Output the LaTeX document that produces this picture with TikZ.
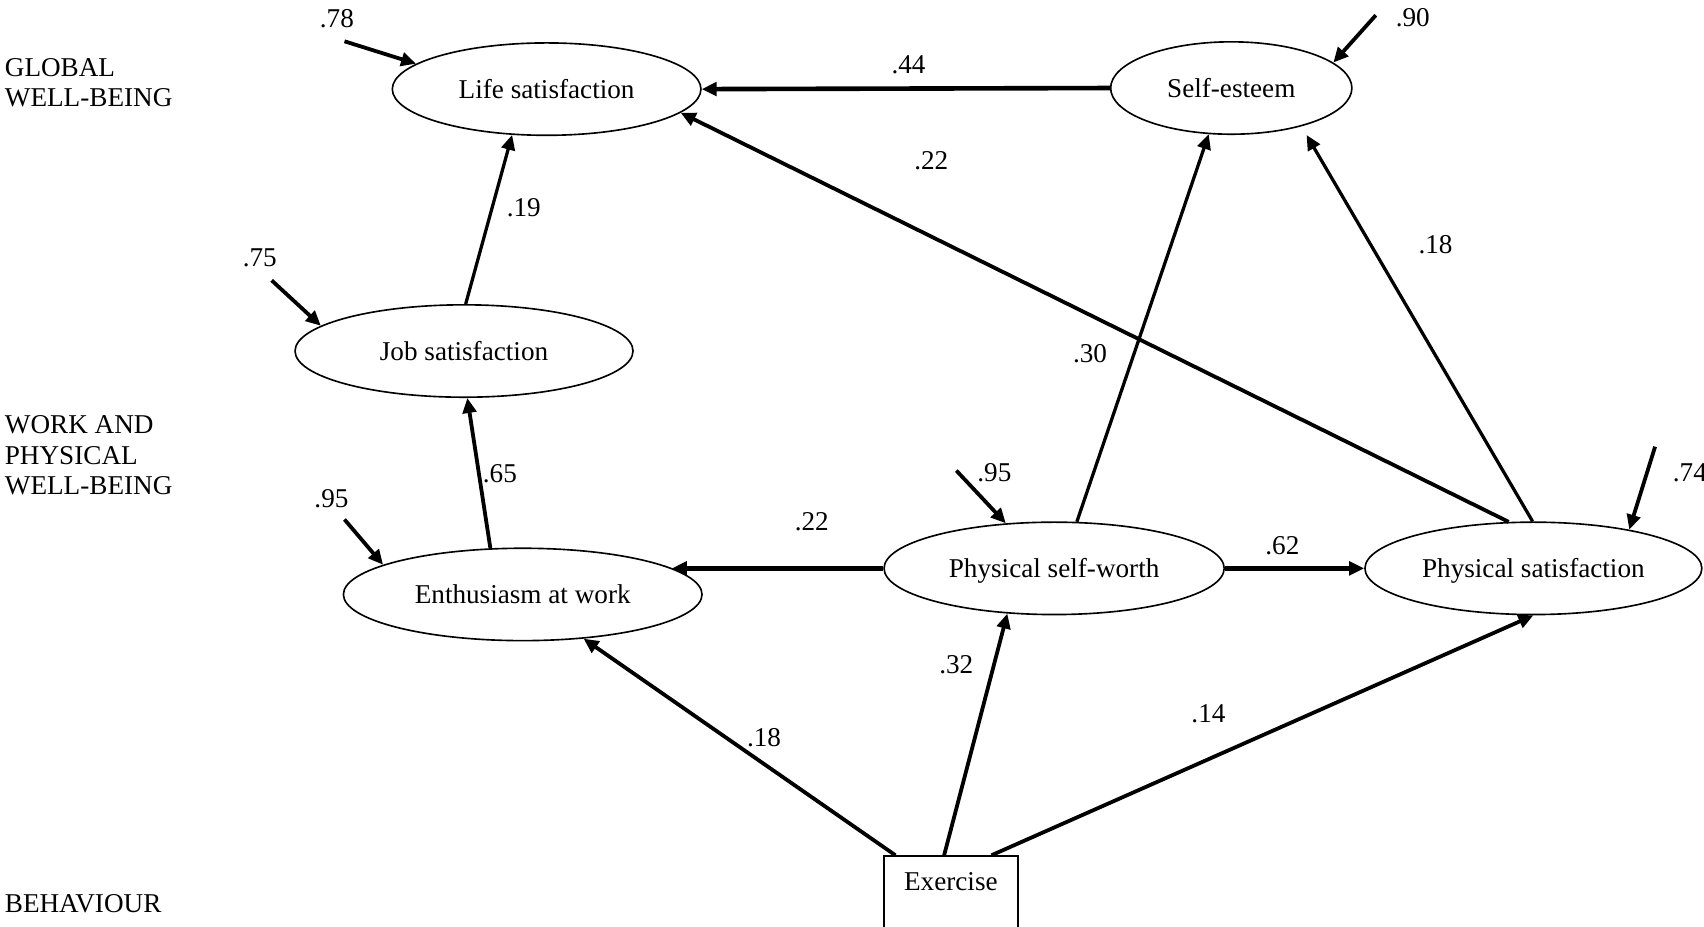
\documentclass[tikz,border=0pt]{standalone}
\usepackage{fontspec}
\setmainfont{Liberation Serif}
\usetikzlibrary{arrows.meta, calc, shapes.geometric}

\begin{document}
\begin{tikzpicture}[x=0.4pt, y=-0.4pt,
  every node/.style={font=\fontsize{10}{11.2}\selectfont},
  latent/.style={draw, ellipse, line width=0.6pt, inner sep=0pt, minimum height=34pt, text depth=0pt},
  obs/.style={draw, rectangle, line width=0.6pt, inner sep=0pt, minimum width=49.2pt,
    minimum height=32pt, text height=12.8pt, text depth=19.2pt},
  eff/.style={-{Triangle[length=5.5pt,width=5pt]}, line width=1.4pt},
  level/.style={align=left, anchor=west, inner sep=0pt}]
  \useasboundingbox (0,0) rectangle (1568,853);

  % levels
  \node[level] (global) at (4,76) {GLOBAL\\WELL-BEING};
  \node[level] (work) at (4,419) {WORK AND\\PHYSICAL\\WELL-BEING};
  \node[level] (behav) at (4,832) {BEHAVIOUR};

  % variables
  \node[latent, minimum width=113.6pt] (life) at (503,82) {Life satisfaction};
  \node[latent, minimum width=88.8pt] (self) at (1133,81) {Self-esteem};
  \node[latent, minimum width=124.4pt] (job) at (427,323) {Job satisfaction};
  \node[latent, minimum width=132pt] (enth) at (481,547) {Enthusiasm at work};
  \node[latent, minimum width=125.2pt] (psw) at (970,523) {Physical self-worth};
  \node[latent, minimum width=124pt] (ps) at (1411,523) {Physical satisfaction};
  \node[obs, anchor=north] (ex) at (875,787) {Exercise};

  % paths
  \draw[eff, line width=1.7pt] (self.west) -- (life.east);
  \node (b44) at (836,60) {.44};
  \draw[eff] (ps.118) -- (life.-10);
  \node (b22a) at (857,148) {.22};
  \draw[eff, line width=1.2pt] (job.88) -- (life.233);
  \node (b19) at (482,191) {.19};
  \draw[eff] (enth.125) -- (job.274);
  \node (b65) at (460,436) {.65};
  \draw[eff, line width=1.7pt] (psw.west) -- (enth.10 |- psw.west);
  \node (b22b) at (747,480) {.22};
  \draw[eff, line width=1.7pt] (psw.east) -- (ps.west);
  \node (b62) at (1180,502) {.62};
  \draw[eff, line width=1.2pt] (psw.64) -- (self.244);
  \node (b30) at (1003,325) {.30};
  \draw[eff, line width=1.2pt] (ps.91) -- ($(self.south)!0.62!(self.south -| self.east)$);
  \node (b18a) at (1321,225) {.18};
  \draw[eff] ($(ex.north west)!0.09!(ex.north east)$) -- (enth.324);
  \node (b18b) at (703,679) {.18};
  \draw[eff] ($(ex.north west)!0.45!(ex.north east)$) -- (psw.224);
  \node (b32) at (880,612) {.32};
  \draw[eff] ($(ex.north west)!0.8!(ex.north east)$) -- (ps.south);
  \node (b14) at (1112,657) {.14};

  % residuals
  \coordinate (e1) at (317,38);
  \draw[eff] (e1) -- (life.169);
  \node (r1) at (310,17) {.78};
  \coordinate (e2) at (1266,14);
  \draw[eff] (e2) -- (self.14);
  \node (r2) at (1300,16) {.90};
  \coordinate (e3) at (250,258);
  \draw[eff] (e3) -- (job.170);
  \node (r3) at (239,237) {.75};
  \coordinate (e4) at (317,478);
  \draw[eff] (e4) -- (enth.168);
  \node (r4) at (305,459) {.95};
  \coordinate (e5) at (880,433);
  \draw[eff] (e5) -- (psw.137);
  \node (r5) at (915,435) {.95};
  \coordinate (e6) at (1523,411);
  \draw[eff] (e6) -- (ps.22);
  \node (r6) at (1555,435) {.74};
\end{tikzpicture}
\end{document}
